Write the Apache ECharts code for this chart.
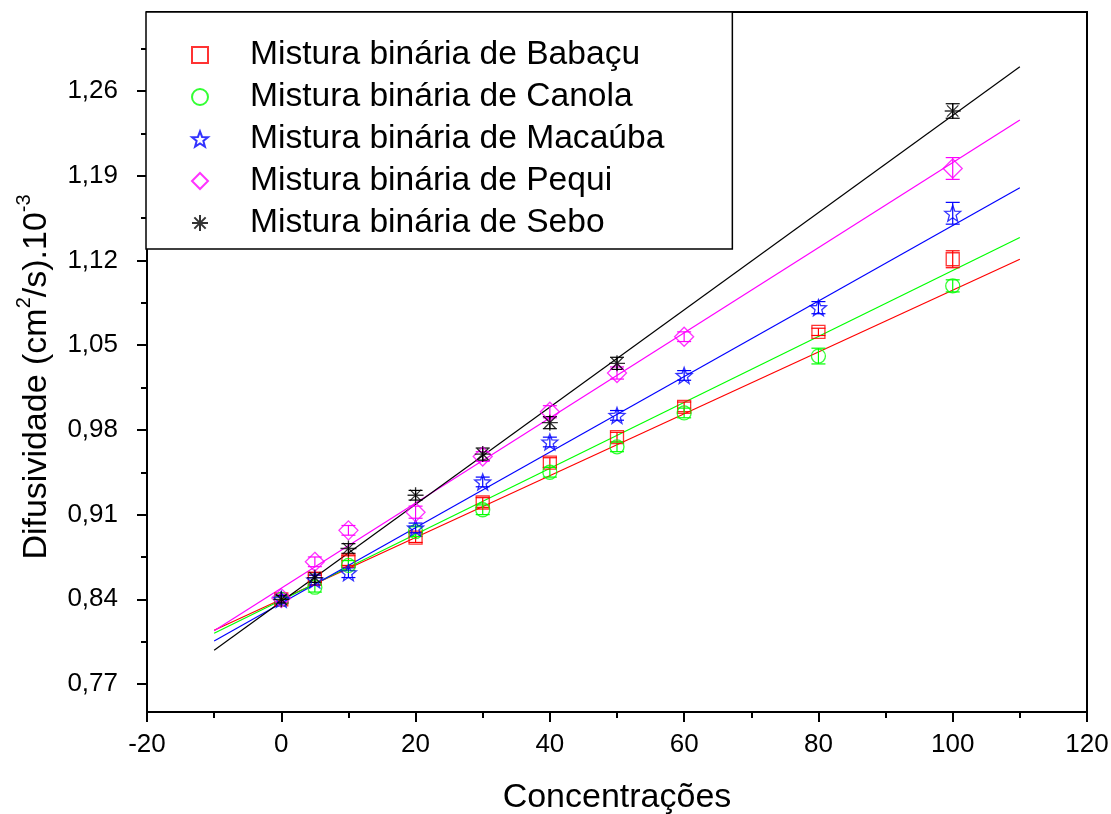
<!DOCTYPE html>
<html>
<head>
<meta charset="utf-8">
<script src="https://cdn.jsdelivr.net/npm/echarts@6/dist/echarts.min.js"></script>
<style>html,body{margin:0;padding:0;background:#fff}#c{width:1111px;height:814px}</style>
</head>
<body>
<div id="c"></div>
<script>
// ---- data ----
const concBabacu = [0, 5, 10, 20, 30, 40, 50, 60, 80, 100];
const babacu     = [0.840, 0.857, 0.872, 0.891, 0.920, 0.953, 0.974, 0.999, 1.061, 1.121];
const babacuErr  = [0.003, 0.003, 0.004, 0.004, 0.004, 0.004, 0.004, 0.004, 0.003, 0.007];

const concCanola = [0, 5, 10, 20, 30, 40, 50, 60, 80, 100];
const canola     = [0.840, 0.850, 0.868, 0.896, 0.914, 0.945, 0.966, 0.994, 1.041, 1.099];
const canolaErr  = [0.003, 0.004, 0.004, 0.004, 0.004, 0.004, 0.004, 0.004, 0.0065, 0.005];

const concMacauba = [0, 5, 10, 20, 30, 40, 50, 60, 80, 100];
const macauba     = [0.840, 0.856, 0.862, 0.899, 0.937, 0.970, 0.992, 1.025, 1.081, 1.159];
const macaubaErr  = [0.003, 0.004, 0.004, 0.004, 0.004, 0.004, 0.004, 0.004, 0.005, 0.009];

const concPequi = [0, 5, 10, 20, 30, 40, 50, 60, 100];
const pequi     = [0.841, 0.871, 0.897, 0.912, 0.958, 0.995, 1.027, 1.057, 1.196];
const pequiErr  = [0.003, 0.004, 0.004, 0.005, 0.004, 0.005, 0.005, 0.004, 0.009];

const concSebo = [0, 5, 10, 20, 30, 40, 50, 100];
const sebo     = [0.840, 0.858, 0.882, 0.926, 0.960, 0.986, 1.035, 1.2435];
const seboErr  = [0.003, 0.004, 0.004, 0.004, 0.005, 0.005, 0.005, 0.006];

// linear fit lines (endpoints)
const fitX       = [-10, 110];
const fitBabacu  = [0.8145, 1.121];
const fitCanola  = [0.812, 1.139];
const fitMacauba = [0.8055, 1.180];
const fitPequi   = [0.814, 1.236];
const fitSebo    = [0.798, 1.280];

const yMajorTicks = [0.77, 0.84, 0.91, 0.98, 1.05, 1.12, 1.19, 1.26];
const yMinorTicks = [0.805, 0.875, 0.945, 1.015, 1.085, 1.155, 1.225, 1.295];

const names = ['Mistura binária de Babaçu', 'Mistura binária de Canola', 'Mistura binária de Macaúba',
               'Mistura binária de Pequi', 'Mistura binária de Sebo'];

// ---- styles ----
const STAR = 'path://M0,-10L2.47,-3.4L9.51,-3.09L3.99,1.3L5.88,8.09L0,4.2L-5.88,8.09L-3.99,1.3L-9.51,-3.09L-2.47,-3.4Z';
const AST = 'path://M0,-10L0,10M-10,0L10,0M-7.07,-7.07L7.07,7.07M-7.07,7.07L7.07,-7.07';
const groups = [
  {name: names[0], x: concBabacu, y: babacu, e: babacuErr, fit: fitBabacu, color: '#ff0000', symbol: 'rect', size: 13},
  {name: names[1], x: concCanola, y: canola, e: canolaErr, fit: fitCanola, color: '#00ff00', symbol: 'circle', size: 14},
  {name: names[2], x: concMacauba, y: macauba, e: macaubaErr, fit: fitMacauba, color: '#0000ff', symbol: STAR, size: 16},
  {name: names[3], x: concPequi, y: pequi, e: pequiErr, fit: fitPequi, color: '#ff00ff', symbol: 'diamond', size: 19},
  {name: names[4], x: concSebo, y: sebo, e: seboErr, fit: fitSebo, color: '#000000', symbol: AST, size: 16}
];

const FONT = '"Liberation Sans", Arial, sans-serif';
const series = [];
groups.forEach(g => {
  series.push({
    type: 'line', name: 'fit ' + g.name, data: fitX.map((x, i) => [x, g.fit[i]]),
    symbol: 'none', lineStyle: {color: g.color, width: 1.2}, silent: true, z: 2
  });
});
groups.forEach(g => {
  series.push({
    type: 'custom', name: 'err ' + g.name,
    data: g.x.map((x, i) => [x, g.y[i], g.e[i]]),
    renderItem: function (params, api) {
      const x = api.value(0), y = api.value(1), e = api.value(2);
      const t = api.coord([x, y + e]), b = api.coord([x, y - e]);
      const w = 7;
      const st = {stroke: g.color, lineWidth: 1.2};
      return {type: 'group', children: [
        {type: 'line', shape: {x1: t[0], y1: t[1], x2: b[0], y2: b[1]}, style: st},
        {type: 'line', shape: {x1: t[0] - w, y1: t[1], x2: t[0] + w, y2: t[1]}, style: st},
        {type: 'line', shape: {x1: b[0] - w, y1: b[1], x2: b[0] + w, y2: b[1]}, style: st}
      ]};
    }, z: 3, silent: true
  });
});
groups.forEach(g => {
  series.push({
    type: 'scatter', name: g.name, data: g.x.map((x, i) => [x, g.y[i]]),
    symbol: g.symbol, symbolSize: g.size,
    itemStyle: {color: 'rgba(255,255,255,0)', borderColor: g.color, borderWidth: 1.3},
    z: 4
  });
});

const chart = echarts.init(document.getElementById('c'), null, {renderer: 'canvas'});
chart.setOption({
  animation: false,
  backgroundColor: '#fff',
  grid: {left: 147, right: 24, top: 12, bottom: 102, outerBoundsMode: 'none', containLabel: false,
         show: true, borderColor: '#000', borderWidth: 2, backgroundColor: 'transparent'},
  legend: {
    data: names, orient: 'vertical', left: 146, top: 12,
    padding: [25, 68, 8, 45], itemGap: 6, itemWidth: 16, itemHeight: 16,
    borderColor: '#000', borderWidth: 1.5, backgroundColor: '#fff',
    textStyle: {fontFamily: FONT, fontSize: 33.6, color: '#000', lineHeight: 36, padding: [0, 0, 0, 37]},
    selectedMode: false
  },
  xAxis: {
    type: 'value', min: -20, max: 120, interval: 20,
    name: 'Concentrações', nameLocation: 'middle', nameGap: 69,
    nameTextStyle: {fontFamily: FONT, fontSize: 34, color: '#000'},
    axisLine: {onZero: false, lineStyle: {color: '#000', width: 2}},
    axisTick: {inside: false, length: 10, lineStyle: {color: '#000', width: 2}},
    minorTick: {show: true, splitNumber: 2, length: 6, lineStyle: {color: '#000', width: 2}},
    axisLabel: {fontFamily: FONT, fontSize: 26, color: '#000', margin: 20},
    splitLine: {show: false}
  },
  yAxis: [{
    type: 'value', min: 0.7469, max: 1.3253,
    name: '{a|Difusividade (cm}{s|2}{a|/s).10}{s|-3}', nameLocation: 'middle', nameGap: 93, nameRotate: 90,
    nameTextStyle: {fontFamily: FONT, fontSize: 34, color: '#000', padding: [0, 30, 0, 0],
      rich: {a: {fontFamily: FONT, fontSize: 34, color: '#000', lineHeight: 40, verticalAlign: 'bottom'},
             s: {fontFamily: FONT, fontSize: 20, color: '#000', lineHeight: 40, verticalAlign: 'top'}}},
    axisLine: {onZero: false, lineStyle: {color: '#000', width: 2}},
    axisTick: {inside: false, length: 10, customValues: yMajorTicks, lineStyle: {color: '#000', width: 2}},
    axisLabel: {fontFamily: FONT, fontSize: 26, color: '#000', margin: 29, customValues: yMajorTicks,
      formatter: v => v.toFixed(2).replace('.', ',')},
    splitLine: {show: false}
  }, {
    type: 'value', min: 0.7469, max: 1.3253, position: 'left',
    axisLine: {show: false, onZero: false},
    axisTick: {inside: false, length: 6, customValues: yMinorTicks, lineStyle: {color: '#000', width: 2}},
    axisLabel: {show: false},
    splitLine: {show: false}
  }],
  series: series
});
</script>
</body>
</html>
